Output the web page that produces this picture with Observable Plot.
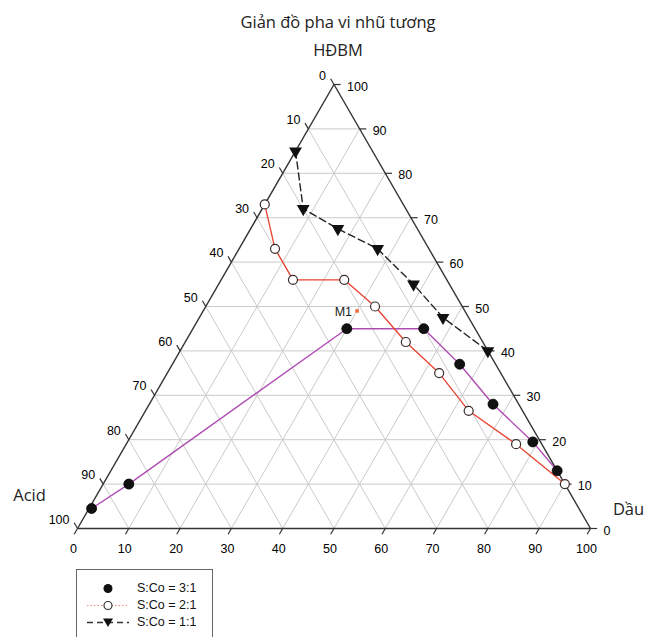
<!DOCTYPE html>
<html>
<head>
<meta charset="utf-8">
<script src="https://cdn.jsdelivr.net/npm/d3@7"></script>
<script src="https://cdn.jsdelivr.net/npm/@observablehq/plot@0.6"></script>
<style>
html, body { margin: 0; padding: 0; background: #fff; overflow: hidden; }
#wrap { position: relative; width: 653px; height: 637px; overflow: hidden; background: #fff; }
.ttl { position: absolute; left: 0; width: 676px; text-align: center; font-family: "Open Sans", "Noto Sans", sans-serif; font-size: 16.5px; color: #222; line-height: 20px; }
#chart { position: absolute; left: 0; top: 62px; }
#chart svg { overflow: visible; }
#legend { position: absolute; left: 76px; top: 569px; width: 137px; height: 80px; border: 1.5px solid #666; box-sizing: border-box; background: #fff; font-family: "Liberation Sans", Arial, sans-serif; font-size: 12.5px; color: #111; }
.lrow { position: absolute; left: 0; height: 17px; width: 135px; }
.lrow svg { position: absolute; left: 6px; top: 0; }
.lrow span { position: absolute; left: 60px; top: 1px; }
</style>
</head>
<body>
<div id="wrap">
  <div class="ttl" style="top:12px">Giản đồ pha vi nhũ tương</div>
  <div class="ttl" style="top:40px">HĐBM</div>
  <div id="chart"></div>
  <div id="legend"></div>
</div>
<script>
// ---- data (ternary: HĐBM %, Dầu %, Acid = 100 - HĐBM - Dầu) ----
const tickValues = [0, 10, 20, 30, 40, 50, 60, 70, 80, 90, 100];
const gridValues = [10, 20, 30, 40, 50, 60, 70, 80, 90];

const vertexNames = ["Acid", "Dầu"];

// S:Co = 3:1 (filled circles)
const s31Hdbm = [4.5, 10, 45, 45, 37, 28, 19.5, 13];
const s31Dau  = [0.5, 5, 30, 45, 56, 67, 79, 87];

// S:Co = 2:1 (open circles)
const s21Hdbm = [73, 63, 56, 56, 50, 42, 35, 26.5, 19, 10];
const s21Dau  = [0, 7, 14, 24, 33, 43, 53, 63, 76, 90];

// S:Co = 1:1 (triangles)
const s11Hdbm = [85, 72, 67.5, 63, 55, 47.5, 40];
const s11Dau  = [0, 8, 17, 27, 38, 47.5, 60];

// point M1
const m1Name = ["M1"];
const m1Hdbm = [49];
const m1Dau  = [30];

const legendLabels = ["S:Co = 3:1", "S:Co = 2:1", "S:Co = 1:1"];

// ---- helpers ----
const S = Math.sqrt(3) / 2;
const tx = (h, d) => d + h / 2;
const ty = (h) => h * S;
const pts = (H, D) => H.map((h, i) => ({x: tx(h, D[i]), y: ty(h)}));
const seg = (h1, d1, h2, d2, extra = {}) => ({x1: tx(h1, d1), y1: ty(h1), x2: tx(h2, d2), y2: ty(h2), ...extra});

const purple = "#b04cb4";
const red = "#e8412f";
const gridColor = "#cacaca";
const edgeColor = "#333";

// grid
const grid = [];
for (const v of gridValues) {
  grid.push(seg(v, 0, v, 100 - v));           // HĐBM = v
  grid.push(seg(0, v, 100 - v, v));           // Dầu = v
  grid.push(seg(0, 100 - v, 100 - v, 0));     // Acid = v
}
// edges
const edges = [
  seg(0, 0, 0, 100),
  seg(0, 100, 100, 0),
  seg(100, 0, 0, 0)
];
// ticks
const tl = 1.3;
const ticks = [];
for (const v of tickValues) {
  ticks.push(seg(0, v, -tl, v));                         // bottom (Dầu)
  ticks.push(seg(v, 100 - v, v, 100 - v + tl));          // right (HĐBM)
  ticks.push(seg(100 - v, 0, 100 - v + tl, -tl));        // left (Acid)
}
const bottomLabels = tickValues.map(v => ({x: tx(0, v), y: ty(0), t: String(v)}));
const rightLabels = tickValues.map(v => ({x: tx(v, 100 - v), y: ty(v), t: String(v)}));
const leftLabels = tickValues.map(v => ({x: tx(100 - v, 0), y: ty(100 - v), t: String(v)}));

const font = "Liberation Sans, Arial, sans-serif";
const titleFont = "Open Sans, Noto Sans, sans-serif";

const chart = Plot.plot({
  width: 653,
  height: 575,
  margin: 0,
  style: {fontFamily: font, background: "transparent", overflow: "visible"},
  x: {domain: [0, 100], range: [77, 590], axis: null},
  y: {domain: [0, 100 * S], range: [466, 22], axis: null},
  marks: [
    Plot.link(grid, {x1: "x1", y1: "y1", x2: "x2", y2: "y2", stroke: gridColor, strokeWidth: 1}),
    Plot.link(edges, {x1: "x1", y1: "y1", x2: "x2", y2: "y2", stroke: edgeColor, strokeWidth: 1.4}),
    Plot.link(ticks, {x1: "x1", y1: "y1", x2: "x2", y2: "y2", stroke: edgeColor, strokeWidth: 1.2}),
    Plot.text(bottomLabels, {x: "x", y: "y", text: "t", dy: 20, dx: -4, fontSize: 12.5, fill: "#000"}),
    Plot.text(rightLabels, {x: "x", y: "y", text: "t", dx: 13, dy: 2, textAnchor: "start", fontSize: 12.5, fill: "#000"}),
    Plot.text(leftLabels, {x: "x", y: "y", text: "t", dx: -8, dy: -9, textAnchor: "end", fontSize: 12.5, fill: "#000"}),
    // vertex names
    Plot.text([{x: tx(0, 0), y: ty(0), t: vertexNames[0]}], {x: "x", y: "y", text: "t", dx: -48, dy: -33, fontSize: 16.5, fontFamily: titleFont, fill: "#222"}),
    Plot.text([{x: tx(0, 100), y: ty(0), t: vertexNames[1]}], {x: "x", y: "y", text: "t", dx: 38, dy: -19, fontSize: 16.5, fontFamily: titleFont, fill: "#222"}),
    // series lines
    Plot.line(pts(s31Hdbm, s31Dau), {x: "x", y: "y", stroke: purple, strokeWidth: 1.4, curve: "linear"}),
    Plot.line(pts(s21Hdbm, s21Dau), {x: "x", y: "y", stroke: red, strokeWidth: 1.3, curve: "linear"}),
    Plot.line(pts(s11Hdbm, s11Dau), {x: "x", y: "y", stroke: "#222", strokeWidth: 1.4, strokeDasharray: "7,4", curve: "linear"}),
    // markers
    Plot.dot(pts(s31Hdbm, s31Dau), {x: "x", y: "y", r: 5, fill: "#111", stroke: "#000", strokeWidth: 0.8}),
    Plot.dot(pts(s21Hdbm, s21Dau), {x: "x", y: "y", r: 4.5, fill: "#fff", stroke: "#3a2a2a", strokeWidth: 1.2}),
    Plot.dot(pts(s11Hdbm, s11Dau), {x: "x", y: "y", r: 3.8, symbol: "triangle", rotate: 180, fill: "#111", stroke: "#111"}),
    // M1
    Plot.dot(pts(m1Hdbm, m1Dau), {x: "x", y: "y", r: 2, symbol: "square", fill: "#f06a3a"}),
    Plot.text(pts(m1Hdbm, m1Dau).map((p, i) => ({...p, t: m1Name[i]})), {x: "x", y: "y", text: "t", dx: -5, dy: 1, textAnchor: "end", fontSize: 12.5, fill: "#222"})
  ]
});
document.getElementById("chart").appendChild(chart);

// legend
const leg = document.getElementById("legend");
const legendSym = [
  `<svg width="50" height="17"><circle cx="25" cy="8.5" r="4.5" fill="#111"/></svg>`,
  `<svg width="50" height="17"><line x1="4" y1="8.5" x2="46" y2="8.5" stroke="${red}" stroke-width="1" stroke-dasharray="1.5,2" opacity="0.6"/><circle cx="25" cy="8.5" r="4" fill="#fff" stroke="#333" stroke-width="1.2"/></svg>`,
  `<svg width="50" height="17"><line x1="4" y1="8.5" x2="46" y2="8.5" stroke="#333" stroke-width="1.3" stroke-dasharray="6,4"/><path d="M20,4.5 L30,4.5 L25,13 Z" fill="#111"/></svg>`
];
const rowTops = [10, 27, 44];
legendLabels.forEach((lab, i) => {
  const row = document.createElement("div");
  row.className = "lrow";
  row.style.top = rowTops[i] + "px";
  row.innerHTML = legendSym[i] + `<span>${lab}</span>`;
  leg.appendChild(row);
});
</script>
</body>
</html>
